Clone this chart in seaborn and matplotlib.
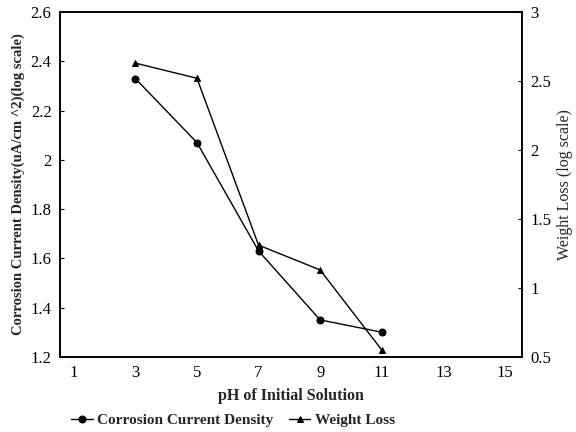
import matplotlib
matplotlib.use("Agg")
import matplotlib.pyplot as plt
from matplotlib.ticker import FuncFormatter
import seaborn as sns
import pandas as pd

sns.set_style("white")
plt.rcParams["font.family"] = ["Liberation Serif", "DejaVu Serif"]

ph = [3, 5, 7, 9, 11]
current_density = [2.33, 2.07, 1.63, 1.35, 1.30]
weight_loss = [2.63, 2.52, 1.31, 1.13, 0.55]
x_ticks = [1, 3, 5, 7, 9, 11, 13, 15]
left_ticks = [1.2, 1.4, 1.6, 1.8, 2.0, 2.2, 2.4, 2.6]
right_ticks = [0.5, 1, 1.5, 2, 2.5, 3]

df = pd.DataFrame({"pH": ph, "cd": current_density, "wl": weight_loss})

fig = plt.figure(figsize=(5.76, 4.32), dpi=100)
ax = fig.add_axes([0.104, 0.174, 0.802, 0.798])
ax2 = ax.twinx()

sns.lineplot(data=df, x="pH", y="cd", ax=ax, color="black", lw=1.0,
             marker="o", markersize=5, markeredgecolor="black",
             label="Corrosion Current Density", legend=False)
sns.lineplot(data=df, x="pH", y="wl", ax=ax2, color="black", lw=1.0,
             marker="^", markersize=5, markeredgecolor="black",
             label="Weight Loss", legend=False)

ax.set_xlim(0.55, 15.55)
ax.set_ylim(1.2, 2.6)
ax2.set_ylim(0.5, 3.0)
ax.set_xticks(x_ticks)
ax.set_yticks(left_ticks)
ax2.set_yticks(right_ticks)
fmt = FuncFormatter(lambda v, p: f"{v:g}")
ax.yaxis.set_major_formatter(fmt)
ax2.yaxis.set_major_formatter(fmt)

for a in (ax, ax2):
    for s in a.spines.values():
        s.set_color("black")
        s.set_linewidth(1.2)
    a.tick_params(direction="in", length=3, width=0.8, colors="black",
                  labelsize=12, pad=6)

ax.set_xlabel("pH of Initial Solution", fontsize=11.5, fontweight="bold", labelpad=5)
ax.set_ylabel("Corrosion Current Density(uA/cm ^2)(log scale)", fontsize=10.5,
              fontweight="bold", labelpad=4)
ax2.set_ylabel("Weight Loss (log scale)", fontsize=11.5, labelpad=4)

h1, l1 = ax.get_legend_handles_labels()
h2, l2 = ax2.get_legend_handles_labels()
fig.legend(h1 + h2, l1 + l2, loc="lower left", bbox_to_anchor=(0.1, -0.02),
           ncol=2, frameon=False, handlelength=1.4,
           columnspacing=1.0, handletextpad=0.3,
           prop={"weight": "bold", "size": 11})

fig.savefig("out.png", dpi=100)
